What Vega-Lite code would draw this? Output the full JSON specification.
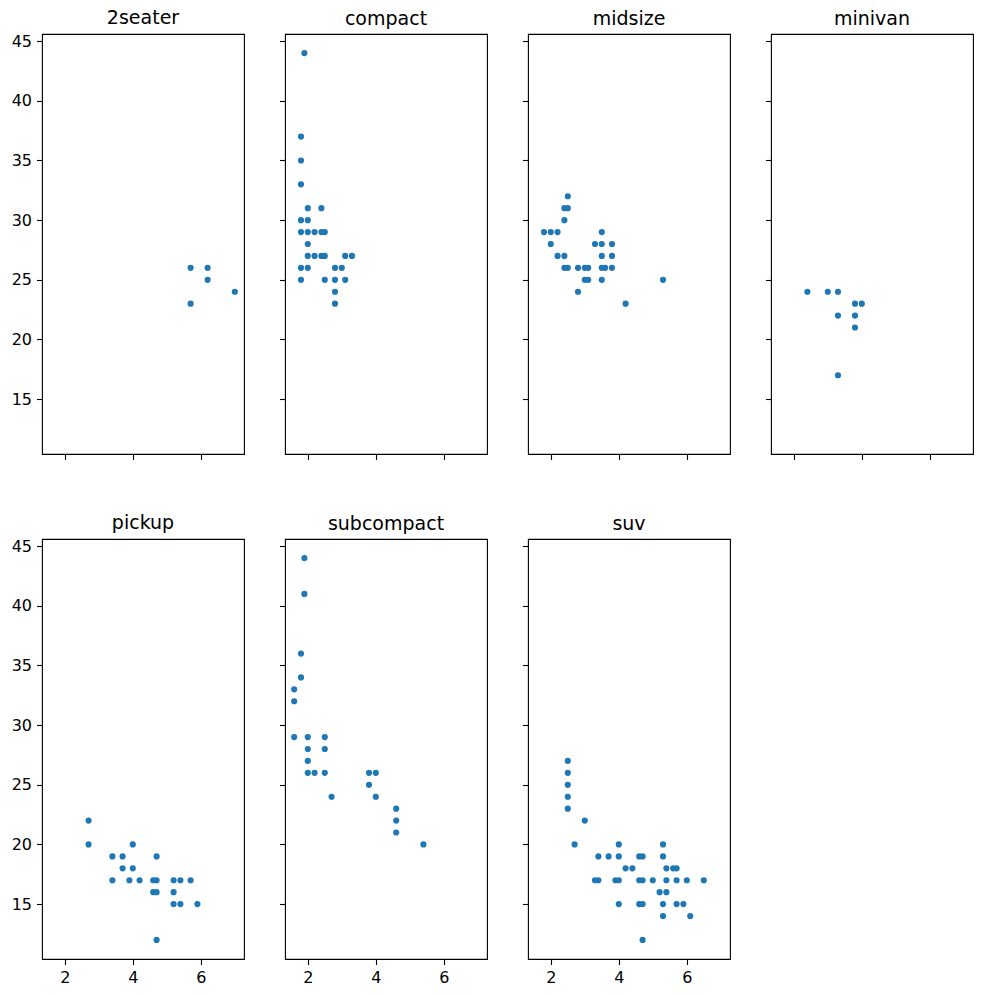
{
  "$schema": "https://vega.github.io/schema/vega-lite/v6.json",
  "background": "white",
  "padding": {"left": 10, "top": 8, "right": 5, "bottom": 5},
  "config": {
    "view": {"stroke": "black", "strokeWidth": 1.1},
    "font": "DejaVu Sans",
    "axis": {
      "domain": false,
      "grid": false,
      "ticks": true,
      "tickColor": "black",
      "tickWidth": 1.1,
      "tickSize": 5.5,
      "labelColor": "black",
      "labelFont": "DejaVu Sans",
      "labelFontSize": 16,
      "labelPadding": 5,
      "title": null
    },
    "title": {"font": "DejaVu Sans", "fontSize": 19, "fontWeight": "normal", "color": "black", "offset": 5}
  },
  "data": {
    "values": [
      {"class": "2seater", "displ": 5.7, "hwy": 26}, {"class": "2seater", "displ": 5.7, "hwy": 23},
      {"class": "2seater", "displ": 6.2, "hwy": 26}, {"class": "2seater", "displ": 6.2, "hwy": 25},
      {"class": "2seater", "displ": 7.0, "hwy": 24},

      {"class": "compact", "displ": 1.8, "hwy": 25}, {"class": "compact", "displ": 1.8, "hwy": 26},
      {"class": "compact", "displ": 1.8, "hwy": 29}, {"class": "compact", "displ": 1.8, "hwy": 30},
      {"class": "compact", "displ": 1.8, "hwy": 33}, {"class": "compact", "displ": 1.8, "hwy": 35},
      {"class": "compact", "displ": 1.8, "hwy": 37}, {"class": "compact", "displ": 1.9, "hwy": 44},
      {"class": "compact", "displ": 2.0, "hwy": 26}, {"class": "compact", "displ": 2.0, "hwy": 27},
      {"class": "compact", "displ": 2.0, "hwy": 28}, {"class": "compact", "displ": 2.0, "hwy": 29},
      {"class": "compact", "displ": 2.0, "hwy": 30}, {"class": "compact", "displ": 2.0, "hwy": 31},
      {"class": "compact", "displ": 2.2, "hwy": 27}, {"class": "compact", "displ": 2.2, "hwy": 29},
      {"class": "compact", "displ": 2.4, "hwy": 27}, {"class": "compact", "displ": 2.4, "hwy": 29},
      {"class": "compact", "displ": 2.4, "hwy": 31}, {"class": "compact", "displ": 2.5, "hwy": 25},
      {"class": "compact", "displ": 2.5, "hwy": 27}, {"class": "compact", "displ": 2.5, "hwy": 29},
      {"class": "compact", "displ": 2.8, "hwy": 23}, {"class": "compact", "displ": 2.8, "hwy": 24},
      {"class": "compact", "displ": 2.8, "hwy": 25}, {"class": "compact", "displ": 2.8, "hwy": 26},
      {"class": "compact", "displ": 3.0, "hwy": 26}, {"class": "compact", "displ": 3.1, "hwy": 25},
      {"class": "compact", "displ": 3.1, "hwy": 27}, {"class": "compact", "displ": 3.3, "hwy": 27},

      {"class": "midsize", "displ": 1.8, "hwy": 29}, {"class": "midsize", "displ": 2.0, "hwy": 28},
      {"class": "midsize", "displ": 2.0, "hwy": 29}, {"class": "midsize", "displ": 2.2, "hwy": 27},
      {"class": "midsize", "displ": 2.2, "hwy": 29}, {"class": "midsize", "displ": 2.4, "hwy": 26},
      {"class": "midsize", "displ": 2.4, "hwy": 27}, {"class": "midsize", "displ": 2.4, "hwy": 30},
      {"class": "midsize", "displ": 2.4, "hwy": 31}, {"class": "midsize", "displ": 2.5, "hwy": 26},
      {"class": "midsize", "displ": 2.5, "hwy": 31}, {"class": "midsize", "displ": 2.5, "hwy": 32},
      {"class": "midsize", "displ": 2.8, "hwy": 24}, {"class": "midsize", "displ": 2.8, "hwy": 26},
      {"class": "midsize", "displ": 3.0, "hwy": 25}, {"class": "midsize", "displ": 3.0, "hwy": 26},
      {"class": "midsize", "displ": 3.1, "hwy": 25}, {"class": "midsize", "displ": 3.1, "hwy": 26},
      {"class": "midsize", "displ": 3.3, "hwy": 28}, {"class": "midsize", "displ": 3.5, "hwy": 25},
      {"class": "midsize", "displ": 3.5, "hwy": 26}, {"class": "midsize", "displ": 3.5, "hwy": 27},
      {"class": "midsize", "displ": 3.5, "hwy": 28}, {"class": "midsize", "displ": 3.5, "hwy": 29},
      {"class": "midsize", "displ": 3.6, "hwy": 26}, {"class": "midsize", "displ": 3.8, "hwy": 26},
      {"class": "midsize", "displ": 3.8, "hwy": 27}, {"class": "midsize", "displ": 3.8, "hwy": 28},
      {"class": "midsize", "displ": 4.2, "hwy": 23}, {"class": "midsize", "displ": 5.3, "hwy": 25},

      {"class": "minivan", "displ": 2.4, "hwy": 24}, {"class": "minivan", "displ": 3.0, "hwy": 24},
      {"class": "minivan", "displ": 3.3, "hwy": 22}, {"class": "minivan", "displ": 3.3, "hwy": 24},
      {"class": "minivan", "displ": 3.3, "hwy": 17}, {"class": "minivan", "displ": 3.8, "hwy": 21},
      {"class": "minivan", "displ": 3.8, "hwy": 22}, {"class": "minivan", "displ": 3.8, "hwy": 23},
      {"class": "minivan", "displ": 4.0, "hwy": 23},

      {"class": "pickup", "displ": 2.7, "hwy": 20}, {"class": "pickup", "displ": 2.7, "hwy": 22},
      {"class": "pickup", "displ": 3.4, "hwy": 17}, {"class": "pickup", "displ": 3.4, "hwy": 19},
      {"class": "pickup", "displ": 3.7, "hwy": 18}, {"class": "pickup", "displ": 3.7, "hwy": 19},
      {"class": "pickup", "displ": 3.9, "hwy": 17}, {"class": "pickup", "displ": 4.0, "hwy": 18},
      {"class": "pickup", "displ": 4.0, "hwy": 20}, {"class": "pickup", "displ": 4.2, "hwy": 17},
      {"class": "pickup", "displ": 4.6, "hwy": 16}, {"class": "pickup", "displ": 4.6, "hwy": 17},
      {"class": "pickup", "displ": 4.7, "hwy": 12}, {"class": "pickup", "displ": 4.7, "hwy": 16},
      {"class": "pickup", "displ": 4.7, "hwy": 17}, {"class": "pickup", "displ": 4.7, "hwy": 19},
      {"class": "pickup", "displ": 5.2, "hwy": 15}, {"class": "pickup", "displ": 5.2, "hwy": 16},
      {"class": "pickup", "displ": 5.2, "hwy": 17}, {"class": "pickup", "displ": 5.4, "hwy": 15},
      {"class": "pickup", "displ": 5.4, "hwy": 17}, {"class": "pickup", "displ": 5.7, "hwy": 17},
      {"class": "pickup", "displ": 5.9, "hwy": 15},

      {"class": "subcompact", "displ": 1.6, "hwy": 29}, {"class": "subcompact", "displ": 1.6, "hwy": 32},
      {"class": "subcompact", "displ": 1.6, "hwy": 33}, {"class": "subcompact", "displ": 1.8, "hwy": 34},
      {"class": "subcompact", "displ": 1.8, "hwy": 36}, {"class": "subcompact", "displ": 1.9, "hwy": 41},
      {"class": "subcompact", "displ": 1.9, "hwy": 44}, {"class": "subcompact", "displ": 2.0, "hwy": 26},
      {"class": "subcompact", "displ": 2.0, "hwy": 27}, {"class": "subcompact", "displ": 2.0, "hwy": 28},
      {"class": "subcompact", "displ": 2.0, "hwy": 29}, {"class": "subcompact", "displ": 2.2, "hwy": 26},
      {"class": "subcompact", "displ": 2.5, "hwy": 26}, {"class": "subcompact", "displ": 2.5, "hwy": 28},
      {"class": "subcompact", "displ": 2.5, "hwy": 29}, {"class": "subcompact", "displ": 2.7, "hwy": 24},
      {"class": "subcompact", "displ": 3.8, "hwy": 25}, {"class": "subcompact", "displ": 3.8, "hwy": 26},
      {"class": "subcompact", "displ": 4.0, "hwy": 24}, {"class": "subcompact", "displ": 4.0, "hwy": 26},
      {"class": "subcompact", "displ": 4.6, "hwy": 21}, {"class": "subcompact", "displ": 4.6, "hwy": 22},
      {"class": "subcompact", "displ": 4.6, "hwy": 23}, {"class": "subcompact", "displ": 5.4, "hwy": 20},

      {"class": "suv", "displ": 2.5, "hwy": 23}, {"class": "suv", "displ": 2.5, "hwy": 24},
      {"class": "suv", "displ": 2.5, "hwy": 25}, {"class": "suv", "displ": 2.5, "hwy": 26},
      {"class": "suv", "displ": 2.5, "hwy": 27}, {"class": "suv", "displ": 2.7, "hwy": 20},
      {"class": "suv", "displ": 3.0, "hwy": 22}, {"class": "suv", "displ": 3.3, "hwy": 17},
      {"class": "suv", "displ": 3.4, "hwy": 17}, {"class": "suv", "displ": 3.4, "hwy": 19},
      {"class": "suv", "displ": 3.7, "hwy": 19}, {"class": "suv", "displ": 3.9, "hwy": 17},
      {"class": "suv", "displ": 4.0, "hwy": 15}, {"class": "suv", "displ": 4.0, "hwy": 17},
      {"class": "suv", "displ": 4.0, "hwy": 19}, {"class": "suv", "displ": 4.0, "hwy": 20},
      {"class": "suv", "displ": 4.2, "hwy": 18}, {"class": "suv", "displ": 4.4, "hwy": 18},
      {"class": "suv", "displ": 4.6, "hwy": 15}, {"class": "suv", "displ": 4.6, "hwy": 17},
      {"class": "suv", "displ": 4.6, "hwy": 19}, {"class": "suv", "displ": 4.7, "hwy": 12},
      {"class": "suv", "displ": 4.7, "hwy": 15}, {"class": "suv", "displ": 4.7, "hwy": 17},
      {"class": "suv", "displ": 4.7, "hwy": 19}, {"class": "suv", "displ": 5.0, "hwy": 17},
      {"class": "suv", "displ": 5.2, "hwy": 16}, {"class": "suv", "displ": 5.3, "hwy": 14},
      {"class": "suv", "displ": 5.3, "hwy": 15}, {"class": "suv", "displ": 5.3, "hwy": 19},
      {"class": "suv", "displ": 5.3, "hwy": 20}, {"class": "suv", "displ": 5.4, "hwy": 16},
      {"class": "suv", "displ": 5.4, "hwy": 17}, {"class": "suv", "displ": 5.4, "hwy": 18},
      {"class": "suv", "displ": 5.6, "hwy": 18}, {"class": "suv", "displ": 5.7, "hwy": 15},
      {"class": "suv", "displ": 5.7, "hwy": 17}, {"class": "suv", "displ": 5.7, "hwy": 18},
      {"class": "suv", "displ": 5.9, "hwy": 15}, {"class": "suv", "displ": 6.0, "hwy": 17},
      {"class": "suv", "displ": 6.1, "hwy": 14}, {"class": "suv", "displ": 6.5, "hwy": 17}
    ]
  },
  "spacing": 52,
  "vconcat": [
    {
      "bounds": "flush",
      "spacing": 41,
      "hconcat": [
        {
          "title": "2seater", "width": 202, "height": 420,
          "transform": [{"filter": "datum.class === '2seater'"}],
          "mark": {"type": "circle", "color": "#1f77b4", "opacity": 1, "size": 38},
          "encoding": {
            "x": {"field": "displ", "type": "quantitative", "scale": {"domain": [1.33, 7.27], "nice": false, "zero": false}, "axis": {"values": [2, 4, 6], "labels": false}},
            "y": {"field": "hwy", "type": "quantitative", "scale": {"domain": [10.4, 45.6], "nice": false, "zero": false}, "axis": {"values": [15, 20, 25, 30, 35, 40, 45]}}
          }
        },
        {
          "title": "compact", "width": 202, "height": 420,
          "transform": [{"filter": "datum.class === 'compact'"}],
          "mark": {"type": "circle", "color": "#1f77b4", "opacity": 1, "size": 38},
          "encoding": {
            "x": {"field": "displ", "type": "quantitative", "scale": {"domain": [1.33, 7.27], "nice": false, "zero": false}, "axis": {"values": [2, 4, 6], "labels": false}},
            "y": {"field": "hwy", "type": "quantitative", "scale": {"domain": [10.4, 45.6], "nice": false, "zero": false}, "axis": {"values": [15, 20, 25, 30, 35, 40, 45], "labels": false}}
          }
        },
        {
          "title": "midsize", "width": 202, "height": 420,
          "transform": [{"filter": "datum.class === 'midsize'"}],
          "mark": {"type": "circle", "color": "#1f77b4", "opacity": 1, "size": 38},
          "encoding": {
            "x": {"field": "displ", "type": "quantitative", "scale": {"domain": [1.33, 7.27], "nice": false, "zero": false}, "axis": {"values": [2, 4, 6], "labels": false}},
            "y": {"field": "hwy", "type": "quantitative", "scale": {"domain": [10.4, 45.6], "nice": false, "zero": false}, "axis": {"values": [15, 20, 25, 30, 35, 40, 45], "labels": false}}
          }
        },
        {
          "title": "minivan", "width": 202, "height": 420,
          "transform": [{"filter": "datum.class === 'minivan'"}],
          "mark": {"type": "circle", "color": "#1f77b4", "opacity": 1, "size": 38},
          "encoding": {
            "x": {"field": "displ", "type": "quantitative", "scale": {"domain": [1.33, 7.27], "nice": false, "zero": false}, "axis": {"values": [2, 4, 6], "labels": false}},
            "y": {"field": "hwy", "type": "quantitative", "scale": {"domain": [10.4, 45.6], "nice": false, "zero": false}, "axis": {"values": [15, 20, 25, 30, 35, 40, 45], "labels": false}}
          }
        }
      ]
    },
    {
      "bounds": "flush",
      "spacing": 41,
      "hconcat": [
        {
          "title": "pickup", "width": 202, "height": 420,
          "transform": [{"filter": "datum.class === 'pickup'"}],
          "mark": {"type": "circle", "color": "#1f77b4", "opacity": 1, "size": 38},
          "encoding": {
            "x": {"field": "displ", "type": "quantitative", "scale": {"domain": [1.33, 7.27], "nice": false, "zero": false}, "axis": {"values": [2, 4, 6]}},
            "y": {"field": "hwy", "type": "quantitative", "scale": {"domain": [10.4, 45.6], "nice": false, "zero": false}, "axis": {"values": [15, 20, 25, 30, 35, 40, 45]}}
          }
        },
        {
          "title": "subcompact", "width": 202, "height": 420,
          "transform": [{"filter": "datum.class === 'subcompact'"}],
          "mark": {"type": "circle", "color": "#1f77b4", "opacity": 1, "size": 38},
          "encoding": {
            "x": {"field": "displ", "type": "quantitative", "scale": {"domain": [1.33, 7.27], "nice": false, "zero": false}, "axis": {"values": [2, 4, 6]}},
            "y": {"field": "hwy", "type": "quantitative", "scale": {"domain": [10.4, 45.6], "nice": false, "zero": false}, "axis": {"values": [15, 20, 25, 30, 35, 40, 45], "labels": false}}
          }
        },
        {
          "title": "suv", "width": 202, "height": 420,
          "transform": [{"filter": "datum.class === 'suv'"}],
          "mark": {"type": "circle", "color": "#1f77b4", "opacity": 1, "size": 38},
          "encoding": {
            "x": {"field": "displ", "type": "quantitative", "scale": {"domain": [1.33, 7.27], "nice": false, "zero": false}, "axis": {"values": [2, 4, 6]}},
            "y": {"field": "hwy", "type": "quantitative", "scale": {"domain": [10.4, 45.6], "nice": false, "zero": false}, "axis": {"values": [15, 20, 25, 30, 35, 40, 45], "labels": false}}
          }
        }
      ]
    }
  ]
}
